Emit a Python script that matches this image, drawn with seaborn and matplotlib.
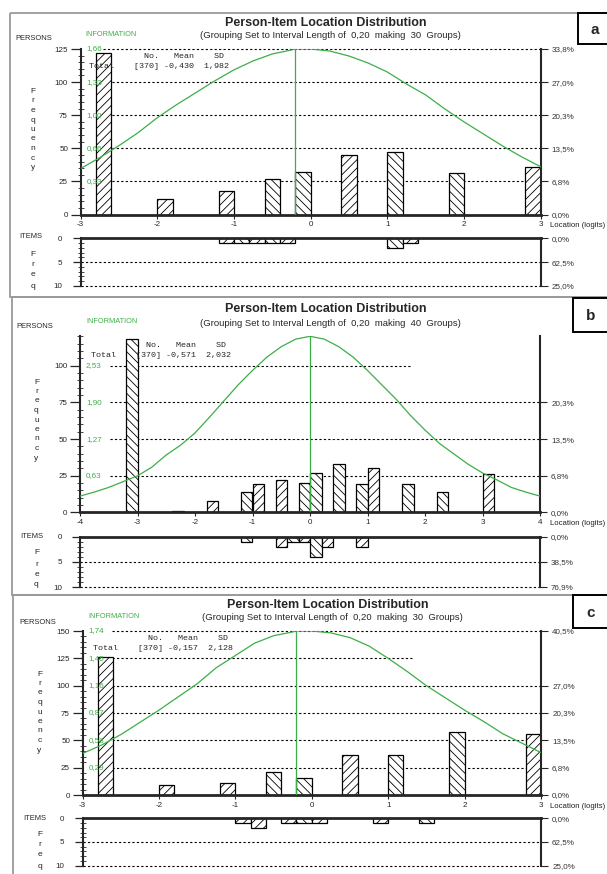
import numpy as np
import matplotlib
matplotlib.use("Agg")
from matplotlib import pyplot as plt
from matplotlib.patches import Rectangle
import seaborn as sns

# ---------------- data: panel a ----------------
a_person_loc = [-2.7, -1.9, -1.1, -0.5, -0.1, 0.5, 1.1, 1.9, 2.9]
a_person_n = [122, 12, 18, 27, 32, 45, 47, 31, 36]
a_item_loc = [-1.1, -0.9, -0.7, -0.5, -0.3, 1.1, 1.3]
a_item_n = [1, 1, 1, 1, 1, 2, 1]
a_info_loc = [-3, -2.75, -2.5, -2.25, -2, -1.75, -1.5, -1.25, -1, -0.75, -0.5, -0.25, -0.2,
              0, 0.25, 0.5, 0.75, 1, 1.25, 1.5, 1.75, 2, 2.25, 2.5, 2.75, 3]
a_info = [0.46, 0.57, 0.69, 0.82, 0.97, 1.10, 1.22, 1.34, 1.45, 1.54, 1.61, 1.65, 1.66,
          1.66, 1.64, 1.59, 1.52, 1.43, 1.31, 1.20, 1.06, 0.93, 0.81, 0.69, 0.58, 0.48]
a_info_peak = -0.2
a_freq_ticks = [0, 25, 50, 75, 100, 125]
a_info_labels = ["", "0,33", "0,66", "1,00", "1,33", "1,66"]
a_pct_labels = ["0,0%", "6,8%", "13,5%", "20,3%", "27,0%", "33,8%"]
a_item_pct = ["0,0%", "62,5%", "25,0%"]
a_stats = ["370", "-0,430", "1,982"]
a_groups = 30

# ---------------- data: panel b ----------------
b_person_loc = [-3.1, -2.3, -1.7, -1.1, -0.9, -0.5, -0.1, 0.1, 0.5, 0.9, 1.1, 1.7, 2.3, 3.1]
b_person_n = [118, 1, 8, 14, 19, 22, 20, 27, 33, 19, 30, 19, 14, 26]
b_item_loc = [-1.1, -0.5, -0.3, -0.1, 0.1, 0.3, 0.9]
b_item_n = [1, 2, 1, 1, 4, 2, 2]
b_info_loc = [-4, -3.75, -3.5, -3.25, -3, -2.75, -2.5, -2.25, -2, -1.75, -1.5, -1.25, -1, -0.75,
              -0.5, -0.25, 0, 0.25, 0.5, 0.75, 1, 1.25, 1.5, 1.75, 2, 2.25, 2.5, 2.75, 3, 3.25,
              3.5, 3.75, 4]
b_info = [0.28, 0.35, 0.43, 0.53, 0.63, 0.78, 0.99, 1.16, 1.37, 1.64, 1.92, 2.20, 2.45, 2.68,
          2.86, 2.99, 3.04, 2.99, 2.86, 2.68, 2.45, 2.20, 1.95, 1.67, 1.42, 1.19, 1.01, 0.83, 0.68,
          0.56, 0.43, 0.35, 0.28]
b_info_peak = 0.0
b_freq_ticks = [0, 25, 50, 75, 100]
b_info_labels = ["", "0,63", "1,27", "1,90", "2,53"]
b_pct_labels = ["0,0%", "6,8%", "13,5%", "20,3%", ""]
b_item_pct = ["0,0%", "38,5%", "76,9%"]
b_stats = ["370", "-0,571", "2,032"]
b_groups = 40

# ---------------- data: panel c ----------------
c_person_loc = [-2.7, -1.9, -1.1, -0.5, -0.1, 0.5, 1.1, 1.9, 2.9]
c_person_n = [126, 9, 11, 21, 16, 37, 37, 58, 56]
c_item_loc = [-0.9, -0.7, -0.3, -0.1, 0.1, 0.9, 1.5]
c_item_n = [1, 2, 1, 1, 1, 1, 1]
c_info_loc = [-3, -2.75, -2.5, -2.25, -2, -1.75, -1.5, -1.25, -1, -0.75, -0.5, -0.25, -0.2,
              0, 0.25, 0.5, 0.75, 1, 1.25, 1.5, 1.75, 2, 2.25, 2.5, 2.75, 3]
c_info = [0.44, 0.53, 0.64, 0.77, 0.90, 1.04, 1.18, 1.35, 1.48, 1.61, 1.69, 1.73, 1.74,
          1.74, 1.72, 1.67, 1.58, 1.45, 1.31, 1.16, 1.03, 0.90, 0.78, 0.65, 0.55, 0.45]
c_info_peak = -0.2
c_freq_ticks = [0, 25, 50, 75, 100, 125, 150]
c_info_labels = ["", "0,29", "0,58", "0,87", "1,16", "1,45", "1,74"]
c_pct_labels = ["0,0%", "6,8%", "13,5%", "20,3%", "27,0%", "", "40,5%"]
c_item_pct = ["0,0%", "62,5%", "25,0%"]
c_stats = ["370", "-0,157", "2,128"]
c_groups = 30

item_ticks = [0, 5, 10]

W, H = 607, 874
GREEN = "#3dae47"
FR = "////"
BK = "\\\\\\\\"

panels = [
    dict(tag="a", person_loc=a_person_loc, person_n=a_person_n, item_loc=a_item_loc, item_n=a_item_n,
         info_loc=a_info_loc, info=a_info, peak=a_info_peak, ticks=a_freq_ticks,
         info_labels=a_info_labels, pct=a_pct_labels, item_pct=a_item_pct, stats=a_stats, groups=a_groups,
         person_hatch=[FR, FR, FR, BK, BK, FR, BK, BK, FR],
         item_hatch=[FR, BK, FR, BK, FR, BK, FR],
         xlim=(-3, 3), top=125, box=(80.5, 49, 540.5, 214.5), ibox=(80.5, 238.3, 540.5, 286),
         grid_x0=22, frame=(10, 13, 297), lbox=(578, 13, 44), lpos=(595, 30),
         title_y=22.7, sub_y=35.7, title_x=326, sub_x=330,
         persons=(34, 39), information=(111, 35), stats_pos=(89, 57, 66),
         freq=(33, 91.5), items=(30.5, 237), ifreq=(33, [254, 265, 275, 286])),
    dict(tag="b", person_loc=b_person_loc, person_n=b_person_n, item_loc=b_item_loc, item_n=b_item_n,
         info_loc=b_info_loc, info=b_info, peak=b_info_peak, ticks=b_freq_ticks,
         info_labels=b_info_labels, pct=b_pct_labels, item_pct=b_item_pct, stats=b_stats, groups=b_groups,
         person_hatch=[BK, FR, FR, BK, FR, FR, BK, BK, BK, BK, FR, BK, BK, FR],
         item_hatch=[BK, FR, BK, FR, BK, FR, FR],
         xlim=(-4, 4), top=120, box=(80, 336.5, 540, 512.3), ibox=(80, 536.7, 540, 587),
         grid_x0=30, frame=(11.5, 297, 595), lbox=(573, 298, 332), lpos=(591, 316),
         title_y=309, sub_y=323, title_x=326, sub_x=330,
         persons=(35, 327), information=(111.7, 321.7), stats_pos=(90.7, 345.7, 355.3),
         freq=(36.5, 382), items=(32, 536), ifreq=(36.5, [553, 565, 575, 585])),
    dict(tag="c", person_loc=c_person_loc, person_n=c_person_n, item_loc=c_item_loc, item_n=c_item_n,
         info_loc=c_info_loc, info=c_info, peak=c_info_peak, ticks=c_freq_ticks,
         info_labels=c_info_labels, pct=c_pct_labels, item_pct=c_item_pct, stats=c_stats, groups=c_groups,
         person_hatch=[FR, FR, FR, BK, BK, FR, BK, BK, FR],
         item_hatch=[FR, FR, FR, BK, FR, FR, BK],
         xlim=(-3, 3), top=150, box=(82.5, 631, 541, 795), ibox=(82.5, 818.3, 541, 865.7),
         grid_x0=29, frame=(13, 595, 900), lbox=(573, 595, 628), lpos=(591, 613),
         title_y=605, sub_y=618, title_x=328, sub_x=332,
         persons=(38, 622), information=(114, 617), stats_pos=(93, 639, 648),
         freq=(39.5, 674), items=(35, 818), ifreq=(39.5, [834, 845, 855, 866])),
]

sns.set_style("ticks")
plt.rcParams["font.family"] = ["Liberation Sans", "DejaVu Sans"]
plt.rcParams["axes.unicode_minus"] = False
plt.rcParams["hatch.linewidth"] = 0.6

fig = plt.figure(figsize=(W / 100, H / 100), dpi=100)


def px_axes(box):
    l, t, r, b = box
    return fig.add_axes([l / W, 1 - b / H, (r - l) / W, (b - t) / H])


def hatch_bars(ax, hatches):
    k = 0
    for patch in ax.patches:
        if patch.get_height() <= 0:
            patch.set_visible(False)
        else:
            patch.set_hatch(hatches[k])
            k += 1


def right_axis(ax, ticks, labels):
    rax = ax.twinx()
    rax.set_ylim(ax.get_ylim())
    keep = [(t, l) for t, l in zip(ticks, labels) if l]
    rax.set_yticks([t for t, _ in keep], [l for _, l in keep])
    for s in rax.spines.values():
        s.set_visible(False)
    rax.tick_params(axis="y", direction="out", length=5, width=0.8, pad=3,
                    labelsize=5.8, labelcolor="#333333")
    return rax


ov = fig.add_axes([0, 0, 1, 1], zorder=10)
ov.set_xlim(0, W)
ov.set_ylim(H, 0)
ov.axis("off")
ov.patch.set_visible(False)

dash = (0, (2, 2))

for p in panels:
    # ---------- persons ----------
    ax = px_axes(p["box"])
    ax.set_facecolor("none")
    axw = p["box"][2] - p["box"][0]
    sns.histplot(x=p["person_loc"], weights=p["person_n"], binwidth=0.2, binrange=p["xlim"],
                 ax=ax, color="white", edgecolor="black", linewidth=0.9, alpha=1, zorder=2)
    hatch_bars(ax, p["person_hatch"])
    scale = p["ticks"][-1] / float(p["info_labels"][-1].replace(",", "."))
    curve = np.array(p["info"]) * scale
    sns.lineplot(x=p["info_loc"], y=curve, ax=ax, color=GREEN, linewidth=0.9, zorder=3)
    ax.plot([p["peak"], p["peak"]], [0, curve.max()], color=GREEN, lw=0.9, zorder=3)
    ax.set_xlim(p["xlim"])
    ax.set_ylim(0, p["top"])
    ax.set_xlabel("")
    ax.set_ylabel("")

    for t, il, pl in zip(p["ticks"], p["info_labels"], p["pct"]):
        if t == 0:
            continue
        ax.axhline(t, p["grid_x0"] / axw, 1 if pl else 0.72, color="black", lw=0.8,
                   ls=dash, zorder=1, clip_on=False)
        ax.text(6 / axw, t, il, transform=ax.get_yaxis_transform(), color=GREEN,
                fontsize=5.8, va="center", ha="left", zorder=4)

    lo, hi = p["xlim"]
    ax.set_xticks(range(lo, hi + 1))
    ax.set_yticks(p["ticks"])
    ax.set_yticks(range(0, p["top"] + 1, 5), minor=True)
    ax.tick_params(axis="x", direction="out", length=3, width=0.8, pad=2, labelsize=5.8)
    ax.tick_params(axis="y", which="major", direction="out", length=7, width=0.9, pad=2, labelsize=5.8)
    ax.tick_params(axis="y", which="minor", direction="inout", length=5, width=0.6)
    ax.spines["top"].set_visible(False)
    ax.spines["left"].set_linewidth(1.5)
    ax.spines["right"].set_linewidth(1.5)
    ax.spines["bottom"].set_linewidth(2)
    right_axis(ax, p["ticks"], p["pct"])

    # ---------- items ----------
    iax = px_axes(p["ibox"])
    iax.set_facecolor("none")
    sns.histplot(x=p["item_loc"], weights=p["item_n"], binwidth=0.2, binrange=p["xlim"],
                 ax=iax, color="white", edgecolor="black", linewidth=0.9, alpha=1, zorder=2)
    hatch_bars(iax, p["item_hatch"])
    iax.set_xlim(p["xlim"])
    iax.set_ylim(10, 0)
    iax.set_xlabel("")
    iax.set_ylabel("")
    for t in item_ticks[1:]:
        iax.axhline(t, 0, 1, color="black", lw=0.8, ls=dash, zorder=1, clip_on=False)
    iax.set_xticks([])
    iax.set_yticks(item_ticks)
    iax.set_yticks(range(0, 11), minor=True)
    iax.tick_params(axis="y", which="major", direction="out", length=6, width=0.9, pad=7, labelsize=5.8)
    iax.tick_params(axis="y", which="minor", direction="inout", length=4, width=0.6)
    iax.spines["bottom"].set_visible(False)
    iax.spines["top"].set_linewidth(2)
    iax.spines["left"].set_linewidth(1.5)
    iax.spines["right"].set_linewidth(1.5)
    right_axis(iax, item_ticks, p["item_pct"])

    # ---------- texts and frames ----------
    fx, fy0, fy1 = p["frame"]
    ov.add_patch(Rectangle((fx, fy0), W + 20, fy1 - fy0, facecolor="none", edgecolor="#9a9a9a", lw=1.3))
    lx, ly0, ly1 = p["lbox"]
    ov.add_patch(Rectangle((lx, ly0), 40, ly1 - ly0, facecolor="white", edgecolor="black", lw=1.4, zorder=5))
    ov.text(p["lpos"][0], p["lpos"][1], p["tag"], fontsize=11, fontweight="bold", ha="center",
            va="center", zorder=6)

    ov.text(p["title_x"], p["title_y"], "Person-Item Location Distribution", fontsize=9,
            fontweight="bold", ha="center", va="center")
    ov.text(p["sub_x"], p["sub_y"],
            "(Grouping Set to Interval Length of  0,20  making  %d  Groups)" % p["groups"],
            fontsize=6.8, ha="center", va="center")
    ov.text(p["persons"][0], p["persons"][1], "PERSONS", fontsize=5.4, ha="center", va="center")
    ov.text(p["information"][0], p["information"][1], "INFORMATION", fontsize=5.3, color=GREEN,
            ha="center", va="center")
    sx, sy1, sy2 = p["stats_pos"]
    ov.text(sx, sy1, "           No.   Mean    SD", family="Liberation Mono", fontsize=6,
            ha="left", va="center")
    ov.text(sx, sy2, "Total    [%s] %s  %s" % tuple(p["stats"]),
            family="Liberation Mono", fontsize=6, ha="left", va="center")
    fqx, fqy = p["freq"]
    for i, ch in enumerate("Frequency"):
        ov.text(fqx, fqy + i * 9.5, ch, fontsize=6, ha="center", va="center")
    ov.text(p["items"][0], p["items"][1], "ITEMS", fontsize=5.4, ha="center", va="center")
    ix, iys = p["ifreq"]
    for ch, yy in zip("Freq", iys):
        ov.text(ix, yy, ch, fontsize=6, ha="center", va="center")
    ov.text(550, p["box"][3] + 11, "Location (logits)", fontsize=5.6, ha="left", va="center",
            color="#222222")

fig.savefig("out.png", dpi=100)
